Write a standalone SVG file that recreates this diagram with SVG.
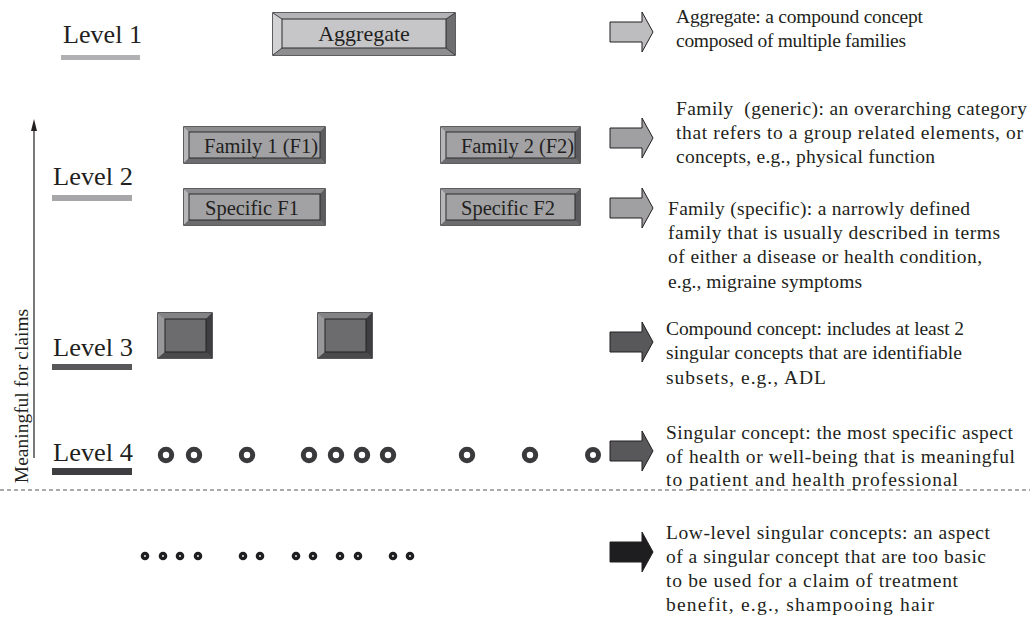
<svg xmlns="http://www.w3.org/2000/svg" width="1030" height="621" viewBox="0 0 1030 621">
  <style>
    .lvl { font-family: "Liberation Serif", "Times New Roman", serif; font-size: 26px; fill: #231f20; }
    .desc { font-family: "Liberation Serif", "Times New Roman", serif; font-size: 19.5px; fill: #231f20; }
    .box { font-family: "Liberation Serif", "Times New Roman", serif; fill: #231f20; }
    .ring { fill: #ffffff; stroke: #3a3a3c; stroke-width: 5; }
    .dot { fill: #ffffff; stroke: #1e1e20; stroke-width: 3.4; }
    .edge { stroke: #231f20; stroke-width: 1.2; }
  </style>
  <defs>
    <marker id="tip" markerWidth="12" markerHeight="8" refX="1" refY="4" orient="auto" markerUnits="userSpaceOnUse" viewBox="0 0 12 8">
      <path d="M0,1 L12,4 L0,7 Z" fill="#231f20"/>
    </marker>
    <!-- block arrow pointing right, tip at (43,0) -->
    <path id="blockArrow" d="M0,-10 L32,-10 L32,-20 L43,0 L32,20 L32,10 L0,10 Z" stroke="#231f20" stroke-width="1"/>
  </defs>

  <rect width="1030" height="621" fill="#ffffff"/>

  <!-- level labels -->
  <g id="level-1">
    <text class="lvl" x="63" y="43" textLength="79" lengthAdjust="spacingAndGlyphs">Level 1</text>
    <rect x="61" y="55" width="79" height="5" fill="#b1b1b4"/>
  </g>
  <g id="level-2">
    <text class="lvl" x="53" y="185" textLength="80" lengthAdjust="spacingAndGlyphs">Level 2</text>
    <rect x="52" y="195" width="80" height="6" fill="#a7a7aa"/>
  </g>
  <g id="level-3">
    <text class="lvl" x="53" y="356" textLength="80" lengthAdjust="spacingAndGlyphs">Level 3</text>
    <rect x="52" y="364" width="80" height="6" fill="#58585a"/>
  </g>
  <g id="level-4">
    <text class="lvl" x="53" y="461" textLength="80" lengthAdjust="spacingAndGlyphs">Level 4</text>
    <rect x="52" y="468" width="80" height="7" fill="#3e3e40"/>
  </g>

  <!-- vertical axis -->
  <g id="axis">
    <line class="edge" x1="34" y1="458" x2="34" y2="130" marker-end="url(#tip)"/>
    <text class="desc" font-size="21.5" transform="translate(28,396) rotate(-90)" text-anchor="middle">Meaningful for claims</text>
  </g>

  <!-- Level 1: aggregate -->
  <g id="aggregate">
    <rect x="273" y="13" width="182" height="42" fill="#9a9a9c" stroke="#2a2a2c" stroke-width="1.5"/>
    <polygon points="273,13 455,13 446,19 282,19" fill="#b4b4b6"/>
    <polygon points="273,13 282,19 282,48 273,55" fill="#d2d2d4"/>
    <polygon points="455,13 446,19 446,48 455,55" fill="#6e6e70"/>
    <polygon points="273,55 282,48 446,48 455,55" fill="#8e8e90"/>
    <rect x="282" y="19" width="164" height="29" fill="#c6c6c8" stroke="#2a2a2c" stroke-width="1"/>
    <line x1="273" y1="13" x2="282" y2="19" stroke="#2a2a2c" stroke-width="0.8"/>
    <line x1="455" y1="13" x2="446" y2="19" stroke="#2a2a2c" stroke-width="0.8"/>
    <line x1="273" y1="55" x2="282" y2="48" stroke="#2a2a2c" stroke-width="0.8"/>
    <line x1="455" y1="55" x2="446" y2="48" stroke="#2a2a2c" stroke-width="0.8"/>
    <text class="box" x="364" y="41" font-size="22" text-anchor="middle">Aggregate</text>
  </g>

  <!-- Level 2: family boxes -->
  <g id="family-1">
    <rect x="184" y="127" width="141" height="36" fill="#7a7a7c" stroke="#2a2a2c" stroke-width="1.5"/>
    <polygon points="184,127 325,127 320,132 189,132" fill="#8c8c8e"/>
    <polygon points="184,127 189,132 189,158 184,163" fill="#b6b6b8"/>
    <polygon points="325,127 320,132 320,158 325,163" fill="#5c5c5e"/>
    <polygon points="184,163 189,158 320,158 325,163" fill="#6c6c6e"/>
    <rect x="189" y="132" width="131" height="26" fill="#a2a2a5" stroke="#2a2a2c" stroke-width="1"/>
    <text class="box" x="204" y="153" font-size="20.5" textLength="114">Family 1 (F1)</text>
  </g>
  <g id="family-2">
    <rect x="441" y="127" width="139" height="36" fill="#7a7a7c" stroke="#2a2a2c" stroke-width="1.5"/>
    <polygon points="441,127 580,127 575,132 446,132" fill="#8c8c8e"/>
    <polygon points="441,127 446,132 446,158 441,163" fill="#b6b6b8"/>
    <polygon points="580,127 575,132 575,158 580,163" fill="#5c5c5e"/>
    <polygon points="441,163 446,158 575,158 580,163" fill="#6c6c6e"/>
    <rect x="446" y="132" width="129" height="26" fill="#a2a2a5" stroke="#2a2a2c" stroke-width="1"/>
    <text class="box" x="461" y="153" font-size="20.5" textLength="113">Family 2 (F2)</text>
  </g>
  <g id="specific-f1">
    <rect x="184" y="189" width="141" height="36" fill="#7a7a7c" stroke="#2a2a2c" stroke-width="1.5"/>
    <polygon points="184,189 325,189 320,194 189,194" fill="#8c8c8e"/>
    <polygon points="184,189 189,194 189,220 184,225" fill="#b6b6b8"/>
    <polygon points="325,189 320,194 320,220 325,225" fill="#5c5c5e"/>
    <polygon points="184,225 189,220 320,220 325,225" fill="#6c6c6e"/>
    <rect x="189" y="194" width="131" height="26" fill="#a2a2a5" stroke="#2a2a2c" stroke-width="1"/>
    <text class="box" x="205" y="215" font-size="20.5">Specific F1</text>
  </g>
  <g id="specific-f2">
    <rect x="441" y="189" width="139" height="36" fill="#7a7a7c" stroke="#2a2a2c" stroke-width="1.5"/>
    <polygon points="441,189 580,189 575,194 446,194" fill="#8c8c8e"/>
    <polygon points="441,189 446,194 446,220 441,225" fill="#b6b6b8"/>
    <polygon points="580,189 575,194 575,220 580,225" fill="#5c5c5e"/>
    <polygon points="441,225 446,220 575,220 580,225" fill="#6c6c6e"/>
    <rect x="446" y="194" width="129" height="26" fill="#a2a2a5" stroke="#2a2a2c" stroke-width="1"/>
    <text class="box" x="461" y="215" font-size="20.5">Specific F2</text>
  </g>

  <!-- Level 3: compound concepts -->
  <g id="compound-1">
    <rect x="158" y="313" width="54" height="45" fill="#555557" stroke="#222224" stroke-width="1.5"/>
    <polygon points="158,313 212,313 206,319 165,319" fill="#838385"/>
    <polygon points="158,313 165,319 165,352 158,358" fill="#98989a"/>
    <polygon points="212,313 206,319 206,352 212,358" fill="#3e3e40"/>
    <polygon points="158,358 165,352 206,352 212,358" fill="#4a4a4c"/>
    <rect x="165" y="319" width="41" height="33" fill="#6c6c6f" stroke="#222224" stroke-width="1"/>
  </g>
  <g id="compound-2">
    <rect x="318" y="313" width="54" height="45" fill="#555557" stroke="#222224" stroke-width="1.5"/>
    <polygon points="318,313 372,313 366,319 325,319" fill="#838385"/>
    <polygon points="318,313 325,319 325,352 318,358" fill="#98989a"/>
    <polygon points="372,313 366,319 366,352 372,358" fill="#3e3e40"/>
    <polygon points="318,358 325,352 366,352 372,358" fill="#4a4a4c"/>
    <rect x="325" y="319" width="41" height="33" fill="#6c6c6f" stroke="#222224" stroke-width="1"/>
  </g>

  <!-- Level 4: singular concepts -->
  <g id="singular-concepts">
    <circle class="ring" cx="166" cy="455" r="5.7"/>
    <circle class="ring" cx="194" cy="455" r="5.7"/>
    <circle class="ring" cx="247" cy="455" r="5.7"/>
    <circle class="ring" cx="309" cy="455" r="5.7"/>
    <circle class="ring" cx="336" cy="455" r="5.7"/>
    <circle class="ring" cx="362" cy="455" r="5.7"/>
    <circle class="ring" cx="388" cy="455" r="5.7"/>
    <circle class="ring" cx="467" cy="455" r="5.7"/>
    <circle class="ring" cx="530" cy="455" r="5.7"/>
    <circle class="ring" cx="593" cy="455" r="5.5" stroke="#161618" stroke-width="5.4"/>
  </g>

  <!-- divider -->
  <line id="divider" x1="0" y1="490" x2="1030" y2="490" stroke="#555557" stroke-width="1" stroke-dasharray="4,3"/>

  <!-- low-level singular concepts -->
  <g id="low-level-concepts">
    <circle class="dot" cx="145" cy="556" r="2.6"/>
    <circle class="dot" cx="163" cy="556" r="2.6"/>
    <circle class="dot" cx="180" cy="556" r="2.6"/>
    <circle class="dot" cx="198" cy="556" r="2.6"/>
    <circle class="dot" cx="243" cy="556" r="2.6"/>
    <circle class="dot" cx="260" cy="556" r="2.6"/>
    <circle class="dot" cx="296" cy="556" r="2.6"/>
    <circle class="dot" cx="313" cy="556" r="2.6"/>
    <circle class="dot" cx="340" cy="556" r="2.6"/>
    <circle class="dot" cx="358" cy="556" r="2.6"/>
    <circle class="dot" cx="393" cy="556" r="2.6"/>
    <circle class="dot" cx="410" cy="556" r="2.6"/>
  </g>

  <!-- pointer arrows to the descriptions -->
  <g id="connectors">
    <use href="#blockArrow" transform="translate(610,32)" fill="#bdbdc0"/>
    <use href="#blockArrow" transform="translate(610,138)" fill="#a0a0a3"/>
    <use href="#blockArrow" transform="translate(610,208)" fill="#a0a0a3"/>
    <use href="#blockArrow" transform="translate(610,342)" fill="#58585a"/>
    <use href="#blockArrow" transform="translate(610,451)" fill="#58585a"/>
    <use href="#blockArrow" transform="translate(610,552)" fill="#1e1e20"/>
  </g>

  <!-- descriptions -->
  <g id="desc-aggregate">
    <text class="desc" x="676" y="23" textLength="247" lengthAdjust="spacing">Aggregate: a compound concept</text>
    <text class="desc" x="676" y="47" textLength="230" lengthAdjust="spacing">composed of multiple families</text>
  </g>
  <g id="desc-family-generic">
    <text class="desc" x="676" y="115" textLength="351" lengthAdjust="spacing" xml:space="preserve">Family  (generic): an overarching category</text>
    <text class="desc" x="676" y="139" textLength="347" lengthAdjust="spacing">that refers to a group related elements, or</text>
    <text class="desc" x="676" y="163" textLength="259" lengthAdjust="spacing">concepts, e.g., physical function</text>
  </g>
  <g id="desc-family-specific">
    <text class="desc" x="668" y="215" textLength="302" lengthAdjust="spacing">Family (specific): a narrowly defined</text>
    <text class="desc" x="668" y="239" textLength="332" lengthAdjust="spacing">family that is usually described in terms</text>
    <text class="desc" x="668" y="263" textLength="314" lengthAdjust="spacing">of either a disease or health condition,</text>
    <text class="desc" x="668" y="288" textLength="194" lengthAdjust="spacing">e.g., migraine symptoms</text>
  </g>
  <g id="desc-compound">
    <text class="desc" x="666" y="335" textLength="298" lengthAdjust="spacing">Compound concept: includes at least 2</text>
    <text class="desc" x="666" y="359" textLength="296" lengthAdjust="spacing">singular concepts that are identifiable</text>
    <text class="desc" x="666" y="384" textLength="160" lengthAdjust="spacing">subsets, e.g., ADL</text>
  </g>
  <g id="desc-singular">
    <text class="desc" x="666" y="439" textLength="347" lengthAdjust="spacing">Singular concept: the most specific aspect</text>
    <text class="desc" x="666" y="463" textLength="349" lengthAdjust="spacing">of health or well-being that is meaningful</text>
    <text class="desc" x="666" y="486" textLength="292" lengthAdjust="spacing">to patient and health professional</text>
  </g>
  <g id="desc-low-level">
    <text class="desc" x="666" y="539" textLength="324" lengthAdjust="spacing">Low-level singular concepts: an aspect</text>
    <text class="desc" x="666" y="563" textLength="320" lengthAdjust="spacing">of a singular concept that are too basic</text>
    <text class="desc" x="666" y="587" textLength="292" lengthAdjust="spacing">to be used for a claim of treatment</text>
    <text class="desc" x="666" y="611" textLength="268" lengthAdjust="spacing">benefit, e.g., shampooing hair</text>
  </g>
</svg>
